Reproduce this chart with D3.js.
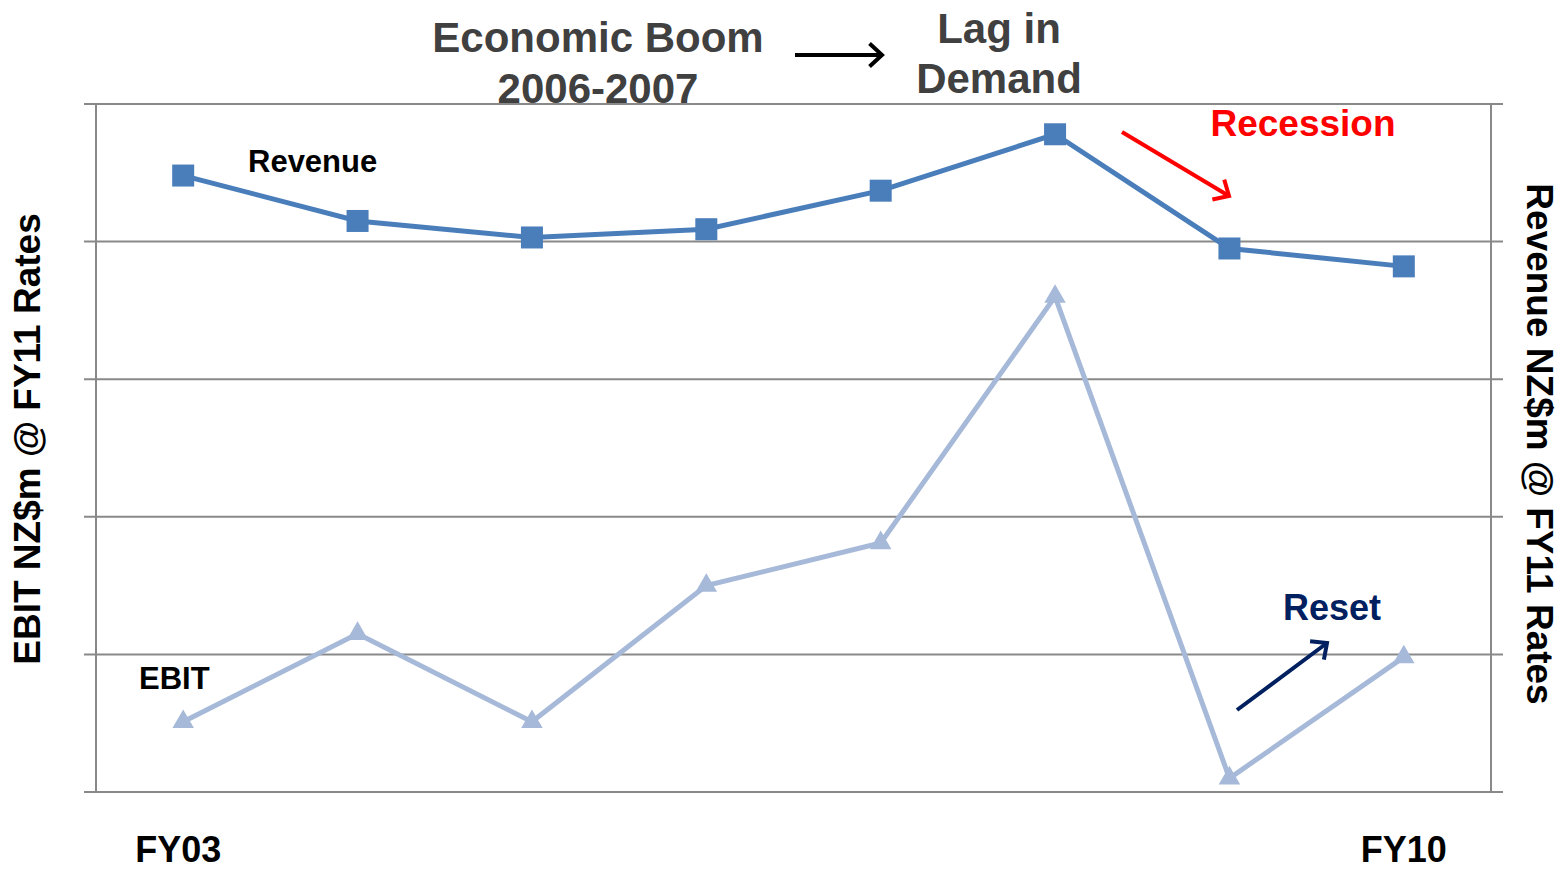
<!DOCTYPE html>
<html>
<head>
<meta charset="utf-8">
<script src="https://cdn.jsdelivr.net/npm/d3@7"></script>
<style>
  html, body { margin: 0; padding: 0; background: #fff; }
  svg { display: block; font-family: "Liberation Sans", Arial, sans-serif; }
</style>
</head>
<body>
<svg id="chart" width="1560" height="869"></svg>
<script>
// Financial years on the category axis
const years = ["FY03", "FY04", "FY05", "FY06", "FY07", "FY08", "FY09", "FY10"];
// Only the end years carry a label
const yearLabels = ["FY03", "FY10"];
// Revenue (right axis) and EBIT (left axis), in gridline units
const revenue = [4.48, 4.15, 4.03, 4.09, 4.37, 4.78, 3.95, 3.82];
const ebit = [0.51, 1.15, 0.51, 1.50, 1.81, 3.60, 0.10, 0.98];
// Gridline levels
const gridTicks = [0, 1, 2, 3, 4, 5];

const svg = d3.select("#chart");
const plot = { left: 96, right: 1491, top: 104, bottom: 792 };

const x = d3.scaleBand().domain(years).range([plot.left, plot.right]).padding(0);
const cx = d => x(d) + x.bandwidth() / 2;
const yLeft = d3.scaleLinear().domain([0, 5]).range([plot.bottom, plot.top]);
const yRight = d3.scaleLinear().domain([0, 5]).range([plot.bottom, plot.top]);

// Gridlines with short tick stubs outside both axes
svg.append("g").selectAll("line").data(gridTicks).join("line")
  .attr("x1", plot.left - 12).attr("x2", plot.right + 12)
  .attr("y1", d => yLeft(d)).attr("y2", d => yLeft(d))
  .attr("stroke", "#898989").attr("stroke-width", 2);

// Vertical axis lines
[plot.left, plot.right].forEach(px => {
  svg.append("line")
    .attr("x1", px).attr("x2", px)
    .attr("y1", plot.top).attr("y2", plot.bottom)
    .attr("stroke", "#898989").attr("stroke-width", 2);
});

// EBIT line with triangle markers
const ebitColor = "#a6b9d8";
svg.append("path")
  .datum(ebit)
  .attr("fill", "none").attr("stroke", ebitColor).attr("stroke-width", 5)
  .attr("stroke-linejoin", "miter")
  .attr("d", d3.line().x((d, i) => cx(years[i])).y(d => yLeft(d)));
svg.append("g").selectAll("path").data(ebit).join("path")
  .attr("d", d3.symbol().type(d3.symbolTriangle).size(200))
  .attr("transform", (d, i) => `translate(${cx(years[i])},${yLeft(d)})`)
  .attr("fill", ebitColor);

// Revenue line with square markers
const revColor = "#4a7ebb";
svg.append("path")
  .datum(revenue)
  .attr("fill", "none").attr("stroke", revColor).attr("stroke-width", 5)
  .attr("d", d3.line().x((d, i) => cx(years[i])).y(d => yRight(d)));
svg.append("g").selectAll("rect").data(revenue).join("rect")
  .attr("x", (d, i) => cx(years[i]) - 11)
  .attr("y", d => yRight(d) - 11)
  .attr("width", 22).attr("height", 22)
  .attr("fill", revColor);

// Year labels
svg.append("g").selectAll("text").data(yearLabels).join("text")
  .attr("x", d => cx(d)).attr("dx", (d, i) => i === 0 ? -5 : 0).attr("y", 862)
  .attr("text-anchor", "middle")
  .attr("font-size", 36).attr("font-weight", "bold").attr("fill", "#000")
  .text(d => d);

// Axis titles
svg.append("text")
  .attr("transform", "translate(40,439) rotate(-90)")
  .attr("text-anchor", "middle")
  .attr("font-size", 37).attr("font-weight", "bold").attr("fill", "#000")
  .text("EBIT NZ$m @ FY11 Rates");
svg.append("text")
  .attr("transform", "translate(1527,444) rotate(90)")
  .attr("text-anchor", "middle")
  .attr("font-size", 37).attr("font-weight", "bold").attr("fill", "#000")
  .text("Revenue NZ$m @ FY11 Rates");

// Series labels
svg.append("text").attr("x", 248).attr("y", 172)
  .attr("font-size", 31).attr("font-weight", "bold").attr("fill", "#000")
  .text("Revenue");
svg.append("text").attr("x", 139).attr("y", 689)
  .attr("font-size", 31).attr("font-weight", "bold").attr("fill", "#000")
  .text("EBIT");

// Headline annotations
const head = svg.append("g")
  .attr("font-size", 42).attr("font-weight", "bold").attr("fill", "#404040")
  .attr("text-anchor", "middle");
head.append("text").attr("x", 598).attr("y", 52).text("Economic Boom");
head.append("text").attr("x", 598).attr("y", 103).text("2006-2007");
head.append("text").attr("x", 999).attr("y", 43).text("Lag in");
head.append("text").attr("x", 999).attr("y", 93).text("Demand");

svg.append("text").attr("x", 1303).attr("y", 136)
  .attr("text-anchor", "middle")
  .attr("font-size", 37).attr("font-weight", "bold").attr("fill", "#ff0000")
  .text("Recession");
svg.append("text").attr("x", 1332).attr("y", 620)
  .attr("text-anchor", "middle")
  .attr("font-size", 36).attr("font-weight", "bold").attr("fill", "#002060")
  .text("Reset");

// Open-headed arrows
function arrow(x1, y1, x2, y2, color) {
  const ang = Math.atan2(y2 - y1, x2 - x1);
  const len = 17, spread = Math.PI / 4.2;
  const g = svg.append("g").attr("stroke", color).attr("stroke-width", 4)
    .attr("fill", "none").attr("stroke-linecap", "butt");
  g.append("line").attr("x1", x1).attr("y1", y1).attr("x2", x2).attr("y2", y2);
  g.append("path").attr("d",
    `M${x2 - len * Math.cos(ang - spread)},${y2 - len * Math.sin(ang - spread)}` +
    `L${x2},${y2}` +
    `L${x2 - len * Math.cos(ang + spread)},${y2 - len * Math.sin(ang + spread)}`)
    .attr("stroke-linejoin", "miter");
}
arrow(795, 55, 882, 55, "#000000");
arrow(1122, 132, 1229, 196, "#ff0000");
arrow(1237, 710, 1327, 643, "#002060");
</script>
</body>
</html>
